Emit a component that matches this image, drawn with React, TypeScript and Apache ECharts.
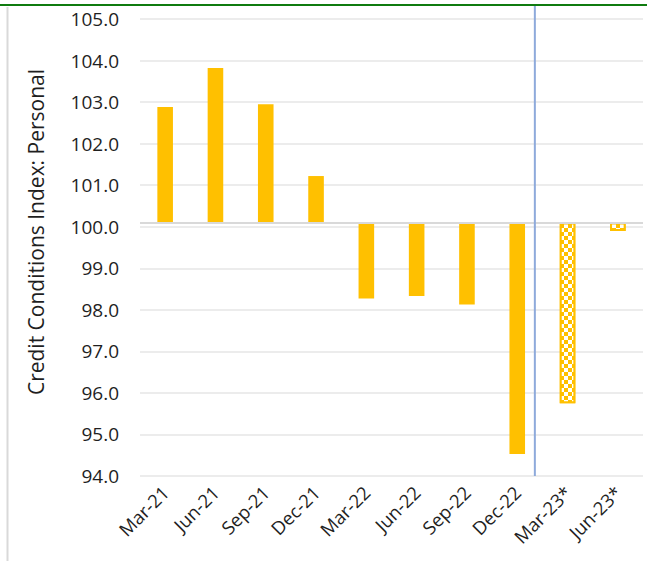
import React, { useEffect, useRef } from "react";
import * as echarts from "echarts";

const categories = ["Mar-21", "Jun-21", "Sep-21", "Dec-21", "Mar-22", "Jun-22", "Sep-22", "Dec-22", "Mar-23*", "Jun-23*"];
const values = [102.88, 103.82, 102.95, 101.22, 98.27, 98.33, 98.13, 94.53, 95.75, 99.9];
const isForecast = [false, false, false, false, false, false, false, false, true, true];
const yMin = 94;
const yMax = 105;
const yInterval = 1;
const axisCross = 100.1;
const yTitle = "Credit Conditions Index: Personal";

const FONT = "'Open Sans', sans-serif";
const YELLOW = "#ffc000";
const TEXT = "#1f1f1f";

export default function App() {
  const ref = useRef<HTMLDivElement>(null);
  useEffect(() => {
    if (!ref.current) return;
    const chart = echarts.init(ref.current, undefined, { renderer: "svg" });
    const baseData = values.map((v) => Math.min(v, axisCross));
    const barData = values.map((v, i) => {
      const d: any = { value: Math.abs(v - axisCross) };
      if (isForecast[i]) {
        d.itemStyle = {
          color: YELLOW,
          borderColor: YELLOW,
          borderWidth: 2,
          decal: {
            symbol: "rect",
            symbolSize: 1,
            color: "#ffffff",
            dashArrayX: [[3.5, 3.5], [0, 3.5, 3.5, 0]],
            dashArrayY: [3.5, 0],
            rotation: 0,
          },
        };
      }
      return d;
    });
    chart.setOption({
      animation: false,
      textStyle: { fontFamily: FONT },
      grid: { left: 140, right: 4, top: 19, bottom: 85, containLabel: false },
      xAxis: {
        type: "category",
        data: categories,
        axisLine: { show: false, onZero: false },
        axisTick: { show: false },
        axisLabel: {
          interval: 0,
          rotate: 45,
          margin: 13,
          fontSize: 18.5,
          color: TEXT,
          fontFamily: FONT,
        },
      },
      yAxis: {
        type: "value",
        min: yMin,
        max: yMax,
        interval: yInterval,
        axisLine: { show: false },
        axisTick: { show: false },
        splitLine: { lineStyle: { color: "#ececec", width: 2 } },
        axisLabel: {
          margin: 21,
          fontSize: 19,
          color: TEXT,
          fontFamily: FONT,
          formatter: (v: number) => v.toFixed(1),
        },
      },
      series: [
        {
          type: "bar",
          stack: "b",
          barWidth: "31%",
          silent: true,
          itemStyle: { color: "rgba(0,0,0,0)" },
          data: baseData,
        },
        {
          type: "bar",
          stack: "b",
          barWidth: "31%",
          itemStyle: { color: YELLOW },
          data: barData,
          markLine: {
            silent: true,
            symbol: "none",
            label: { show: false },
            lineStyle: { color: "#d9d9d9", width: 2, type: "solid" },
            data: [{ yAxis: axisCross }],
          },
        },
      ],
    });
    const x7 = chart.convertToPixel({ xAxisIndex: 0 }, categories[7]) as number;
    const x8 = chart.convertToPixel({ xAxisIndex: 0 }, categories[8]) as number;
    const yBottom = chart.convertToPixel({ yAxisIndex: 0 }, yMin) as number;
    const xLine = x7 + 0.35 * (x8 - x7);
    chart.setOption({
      graphic: [
        {
          type: "rect",
          shape: { x: 0, y: 4, width: 647, height: 2 },
          style: { fill: "#0f7b0f" },
          z: 100,
        },
        {
          type: "line",
          shape: { x1: 7.5, y1: 7, x2: 7.5, y2: 561 },
          style: { stroke: "#d9d9d9", lineWidth: 2 },
        },
        {
          type: "line",
          shape: { x1: xLine, y1: 6, x2: xLine, y2: yBottom },
          style: { stroke: "#8eaadb", lineWidth: 2 },
          z: 50,
        },
        {
          type: "text",
          x: 36,
          y: 232,
          rotation: Math.PI / 2,
          style: {
            text: yTitle,
            fontSize: 21,
            fontFamily: FONT,
            fill: TEXT,
            align: "center",
            verticalAlign: "middle",
          },
        },
      ],
    });
    return () => chart.dispose();
  }, []);
  return <div ref={ref} style={{ position: "absolute", left: 0, top: 0, width: 647, height: 561 }} />;
}
